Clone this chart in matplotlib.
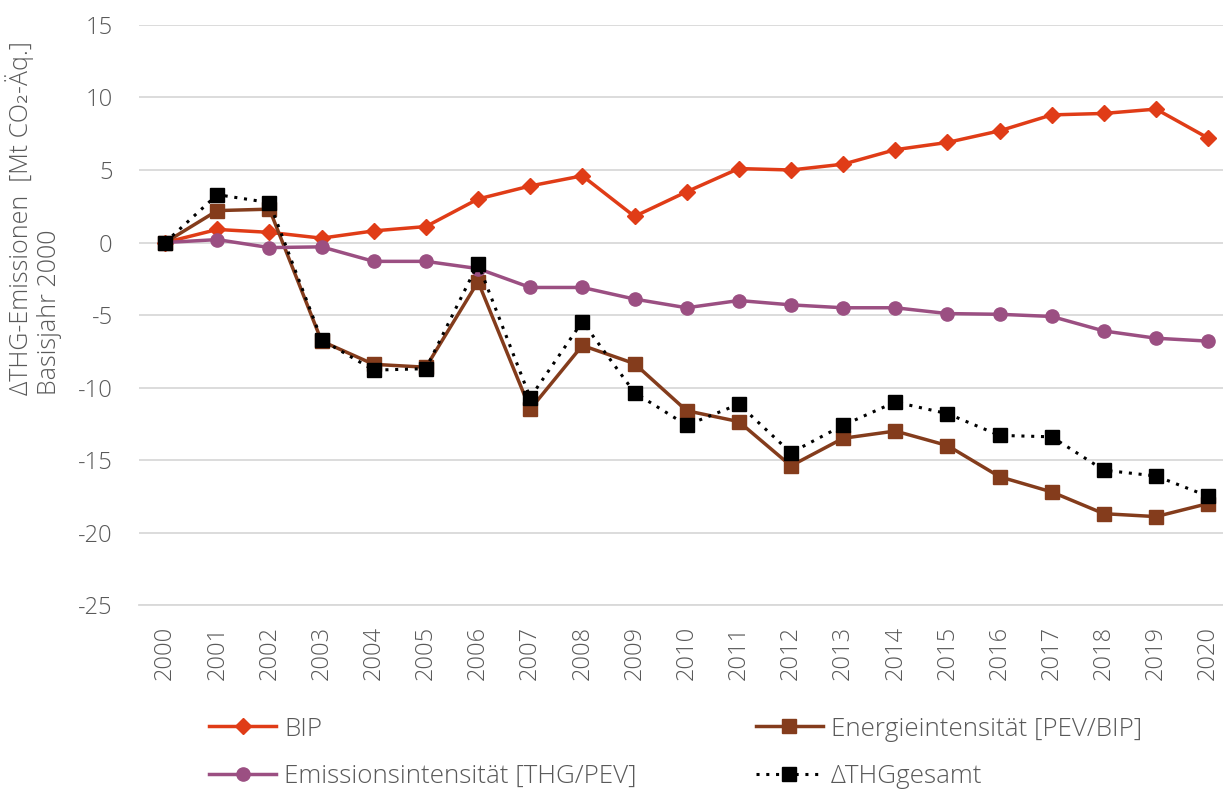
import matplotlib
matplotlib.use("Agg")
from matplotlib import pyplot as plt

plt.rcParams['font.family'] = ['Open Sans', 'DejaVu Sans']
plt.rcParams['font.weight'] = 'light'
plt.rcParams['axes.unicode_minus'] = False

years = list(range(2000, 2021))
bip = [0, 0.9, 0.7, 0.3, 0.8, 1.1, 3.0, 3.9, 4.6, 1.8, 3.5,
       5.1, 5.0, 5.4, 6.4, 6.9, 7.7, 8.8, 8.9, 9.2, 7.2]
energie = [0, 2.2, 2.3, -6.8, -8.4, -8.6, -2.7, -11.5, -7.1, -8.35, -11.6,
           -12.35, -15.4, -13.5, -13.0, -14.0, -16.15, -17.2, -18.7, -18.9, -18.0]
emission = [0, 0.2, -0.35, -0.3, -1.3, -1.3, -1.8, -3.1, -3.1, -3.9, -4.5,
            -4.0, -4.3, -4.5, -4.5, -4.9, -4.95, -5.1, -6.1, -6.6, -6.8]
thg = [0, 3.3, 2.75, -6.7, -8.8, -8.7, -1.45, -10.7, -5.45, -10.35, -12.6,
       -11.15, -14.5, -12.6, -11.0, -11.8, -13.3, -13.4, -15.7, -16.1, -17.5]

grey = "#595959"

fig = plt.figure(figsize=(12.23, 7.93), dpi=100)
ax = fig.add_axes([0.1137, 0.237, 0.8955, 0.7315])

l_bip, = ax.plot(years, bip, color="#E03C17", lw=2.5, marker="D", ms=8, label="BIP")
l_en, = ax.plot(years, energie, color="#843C1C", lw=2.5, marker="s", ms=10,
                label="Energieintensität [PEV/BIP]")
l_em, = ax.plot(years, emission, color="#9B4F82", lw=2.5, marker="o", ms=9.5,
                label="Emissionsintensität [THG/PEV]")
l_thg, = ax.plot(years, thg, color="black", lw=2.2, ls=(0, (1, 2.2)), marker="s", ms=10,
                 label="ΔTHGgesamt")

ax.set_xlim(1999.5, 2020.5)
ax.set_ylim(-25, 15)
ax.set_yticks(range(-25, 16, 5))
ax.set_xticks(years)
ax.set_xticklabels([str(y) for y in years], rotation=90)
ax.grid(axis="y", color="#d9d9d9", lw=1.3)
ax.set_axisbelow(True)
for s in ax.spines.values():
    s.set_visible(False)
ax.spines["bottom"].set_visible(True)
ax.spines["bottom"].set_color("#d9d9d9")
ax.spines["bottom"].set_linewidth(1.3)
ax.tick_params(axis="both", length=0, colors=grey, labelsize=17)
ax.tick_params(axis="y", pad=19)
ax.tick_params(axis="x", pad=15)

# y label: two lines, bottom-aligned like the original
fig.text(0.004, 0.502, "ΔTHG-Emissionen  [Mt CO₂-Äq.]\nBasisjahr 2000", color=grey,
         fontsize=18, rotation=90, ha="left", va="bottom", multialignment="left",
         linespacing=1.15)

fig.legend(handles=[l_bip, l_em, l_en, l_thg], ncol=2, loc="center",
           bbox_to_anchor=(0.5523, 0.051), frameon=False, fontsize=18.7,
           handlelength=2.58, columnspacing=4.6, labelcolor=grey,
           handletextpad=0.3, labelspacing=0.85)

fig.savefig("out.png", dpi=100)
